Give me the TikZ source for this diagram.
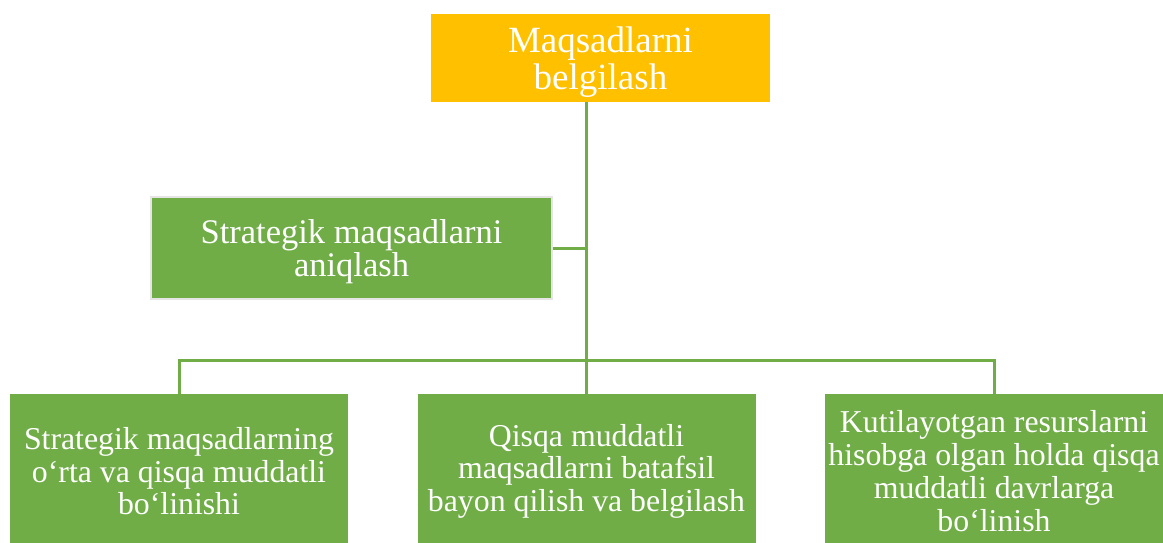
\documentclass[tikz,border=0pt]{standalone}
\usepackage{fontspec}
\setmainfont{Liberation Serif}
\definecolor{lgreen}{HTML}{70AD47}
\definecolor{gold}{HTML}{FFC000}
\begin{document}
\begin{tikzpicture}[x=1pt,y=-1pt,
  conn/.style={draw=lgreen,line width=3pt},
  topbox/.style={fill=gold,text=white,minimum width=339pt,minimum height=88pt,inner sep=0pt,align=center,text depth=0pt,font=\fontsize{37}{37}\selectfont},
  midbox/.style={fill=lgreen,draw=gray!20,line width=2.5pt,text=white,minimum width=401pt,minimum height=102pt,inner sep=0pt,align=center,text depth=0pt,font=\fontsize{34.5}{33.5}\selectfont},
  botbox/.style={fill=lgreen,text=white,anchor=north,minimum width=338pt,minimum height=154pt,inner sep=0pt,align=center,font=\fontsize{31.8}{32.8}\selectfont}]
\clip (0,0) rectangle (1163,542);
\useasboundingbox (0,0) rectangle (1163,542);
\fill[white] (0,0) rectangle (1163,542);
\node[topbox] (top) at (600.5,58) {Maqsadlarni\\belgilash};
\node[midbox] (strat) at (351.5,248) {Strategik maqsadlarni\\aniqlash};
\node[botbox] (b1) at (179,394) {Strategik maqsadlarning\\o‘rta va qisqa muddatli\\bo‘linishi};
\node[botbox] (b2) at (586.5,394) {Qisqa muddatli\\maqsadlarni batafsil\\bayon qilish va belgilash};
\node[botbox] (b3) at (994,394) {Kutilayotgan resurslarni\\hisobga olgan holda qisqa\\muddatli davrlarga\\bo‘linish};
\coordinate (j) at (586,360);
\draw[conn] (top.south -| j) -- (j);
\draw[conn] (strat.east) -- (strat.east -| j);
\draw[conn] (b1.north) -- (b1.north |- j) -- (b3.north |- j) -- (b3.north);
\draw[conn] (b2.north) -- (b2.north |- j);
\end{tikzpicture}
\end{document}
